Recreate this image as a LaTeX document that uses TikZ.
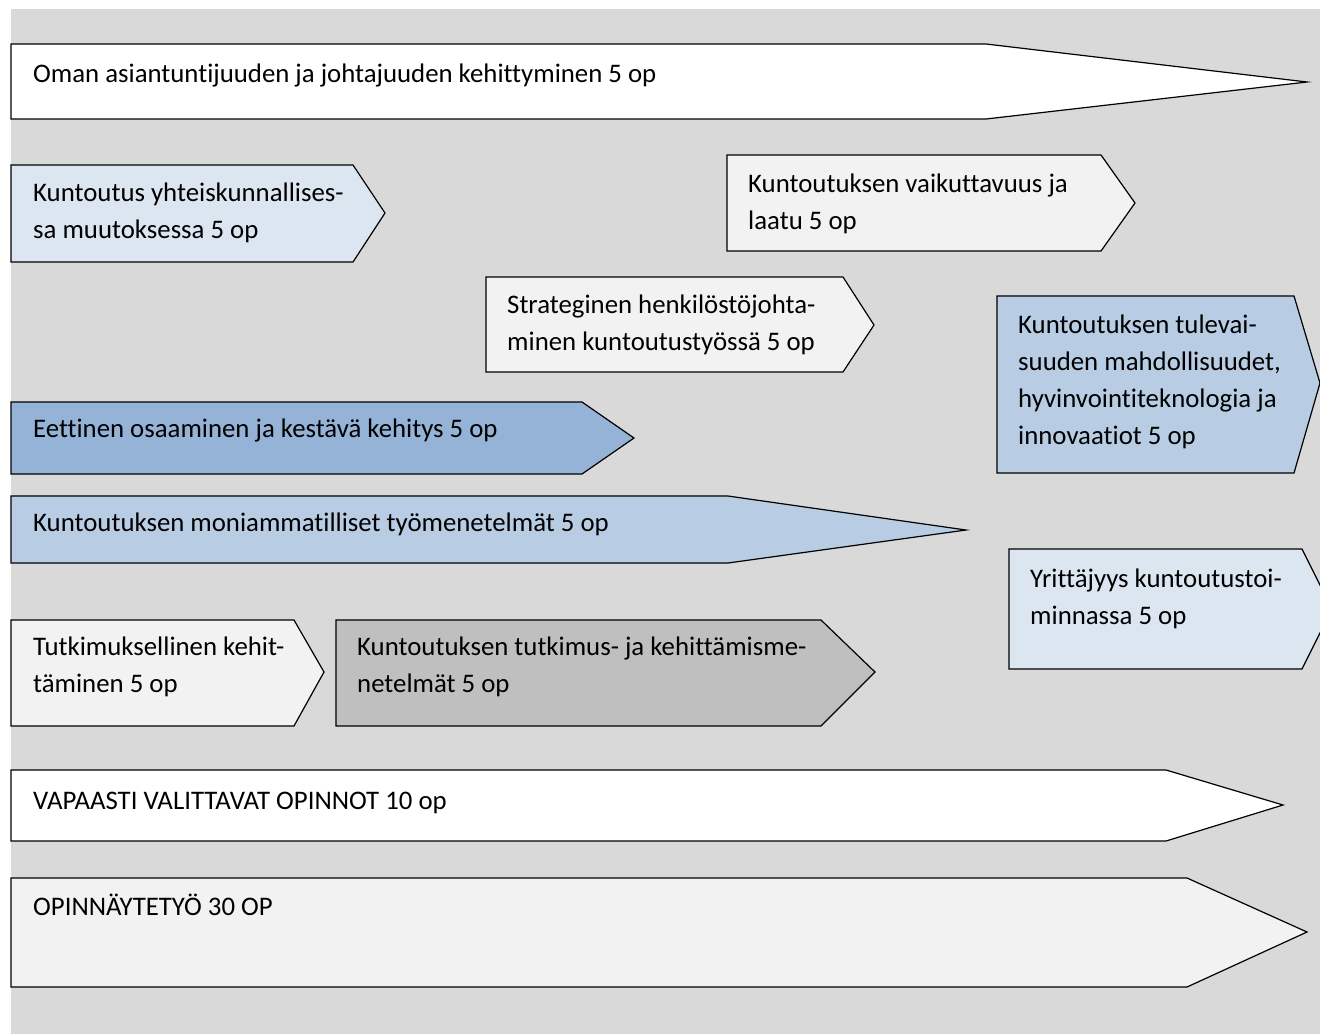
\documentclass[tikz,border=0pt]{standalone}
\usepackage{fontspec}
\setmainfont[Ligatures=CommonOff]{Carlito}
\usepackage{tikz}

\definecolor{bggray}{HTML}{D9D9D9}
\definecolor{paleblue}{HTML}{DCE6F1}
\definecolor{lightblue}{HTML}{B8CCE4}
\definecolor{midblue}{HTML}{95B3D7}
\definecolor{palegray}{HTML}{F2F2F2}
\definecolor{darkgray}{HTML}{BFBFBF}

\tikzset{
	phase/.style={draw=black, line width=1.2pt, line join=miter},
	phasetext/.style={anchor=base west, align=left, inner sep=0pt,
		font={\fontsize{26.8}{37}\selectfont}}
}

\begin{document}
\begin{tikzpicture}[x=1pt,y=-1pt]
	\useasboundingbox (0,0) rectangle (1320,1034);
	\fill[bggray] (11,9) rectangle (1320,1034);
	% long arrows
	\draw[phase,fill=white] (11,44)--(986,44)--(1307,82)--(986,119)--(11,119)--cycle;
	\node[phasetext] (oman) at (33,82) {Oman asiantuntijuuden ja johtajuuden kehittyminen 5 op};
	% first courses (base = last line)
	\draw[phase,fill=paleblue] (11,165)--(353,165)--(385,213)--(353,262)--(11,262)--cycle;
	\node[phasetext] (yhteis) at (33,238) {Kuntoutus yhteiskunnallises-\\sa muutoksessa 5 op};
	\draw[phase,fill=palegray] (727,155)--(1101,155)--(1135,203)--(1101,251)--(727,251)--cycle;
	\node[phasetext] (laatu) at (748,229) {Kuntoutuksen vaikuttavuus ja\\laatu 5 op};
	\draw[phase,fill=palegray] (486,277)--(843,277)--(874,325)--(843,372)--(486,372)--cycle;
	\node[phasetext] (strat) at (507,350) {Strateginen henkilöstöjohta-\\minen kuntoutustyössä 5 op};
	\draw[phase,fill=lightblue] (997,296)--(1294,296)--(1320,383)--(1294,473)--(997,473)--cycle;
	\node[phasetext] (tulevai) at (1018,444) {Kuntoutuksen tulevai-\\suuden mahdollisuudet,\\hyvinvointiteknologia ja\\innovaatiot 5 op};
	\draw[phase,fill=midblue] (11,402)--(582,402)--(634,438)--(582,474)--(11,474)--cycle;
	\node[phasetext] (eett) at (33,437) {Eettinen osaaminen ja kestävä kehitys 5 op};
	\draw[phase,fill=lightblue] (11,496)--(728,496)--(966,530)--(728,563)--(11,563)--cycle;
	\node[phasetext] (moni) at (33,531) {Kuntoutuksen moniammatilliset työmenetelmät 5 op};
	\draw[phase,fill=paleblue] (1009,549)--(1302,549)--(1332,609)--(1302,669)--(1009,669)--cycle;
	\node[phasetext] (yritt) at (1030,624) {Yrittäjyys kuntoutustoi-\\minnassa 5 op};
	% research
	\draw[phase,fill=palegray] (11,620)--(294,620)--(324,672)--(294,726)--(11,726)--cycle;
	\node[phasetext] (tutk) at (33,692) {Tutkimuksellinen kehit-\\täminen 5 op};
	\draw[phase,fill=darkgray] (336,620)--(821,620)--(875,672)--(821,726)--(336,726)--cycle;
	\node[phasetext] (menet) at (357,692) {Kuntoutuksen tutkimus- ja kehittämisme-\\netelmät 5 op};
	% free studies and thesis
	\draw[phase,fill=white] (11,770)--(1166,770)--(1283,805)--(1166,841)--(11,841)--cycle;
	\node[phasetext] (vapaa) at (33,809) {VAPAASTI VALITTAVAT OPINNOT 10 op};
	\draw[phase,fill=palegray] (11,878)--(1187,878)--(1307,932)--(1187,987)--(11,987)--cycle;
	\node[phasetext] (thesis) at (33,915) {OPINNÄYTETYÖ 30 OP};
\end{tikzpicture}
\end{document}
